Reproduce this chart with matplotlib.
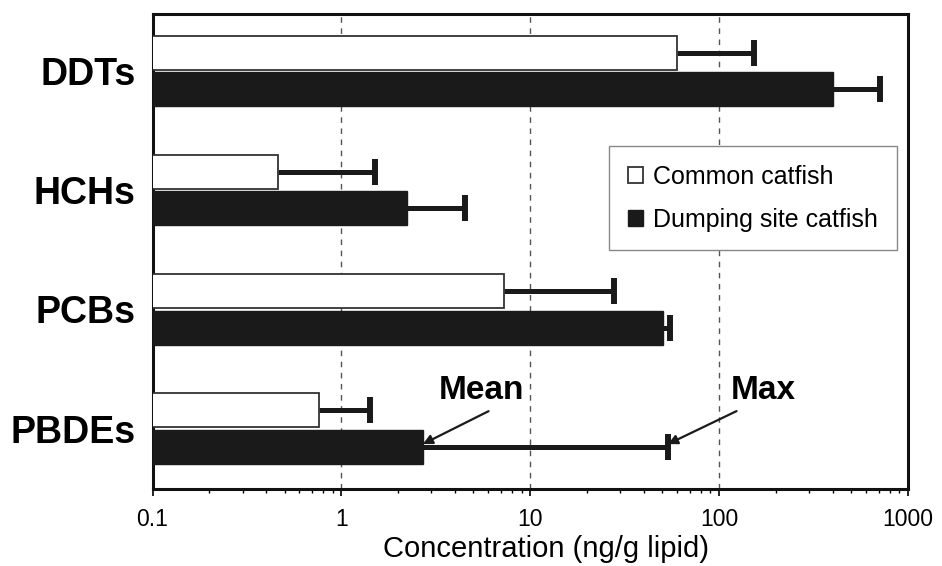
import matplotlib.pyplot as plt
import numpy as np

categories = ["DDTs", "HCHs", "PCBs", "PBDEs"]
series = ["Common catfish", "Dumping site catfish"]

common_mean = [59.8, 0.46, 7.3, 0.76]
common_max = [153, 1.5, 27.8, 1.42]
dumping_mean = [400, 2.23, 50.6, 2.7]
dumping_max = [710, 4.5, 55, 53.6]

x_ticks = [0.1, 1, 10, 100, 1000]
x_tick_labels = ["0.1", "1", "10", "100", "1000"]


def one_sided_err(ax, mean, mx, ypos):
    mean = np.array(mean)
    _, caps, _ = ax.errorbar(mean, ypos, xerr=[np.zeros_like(mean), np.array(mx) - mean],
                             fmt="none", ecolor="#1a1a1a", elinewidth=3.6, capsize=9.7,
                             capthick=4.3, zorder=2)
    # only keep the cap at the max end
    caps[0].set_visible(False)


def plot():
    plt.rcParams["font.family"] = ["Liberation Sans", "DejaVu Sans"]
    fig = plt.figure(figsize=(9.42, 5.66), dpi=100)
    ax = fig.add_axes([0.1619, 0.1360, 0.802, 0.839])

    y = np.arange(len(categories))
    off = 0.153
    h = 0.285

    ax.barh(y - off, common_mean, height=h, color="white", edgecolor="#333333",
            linewidth=1.3, zorder=3, label=series[0])
    ax.barh(y + off, dumping_mean, height=h, color="#1a1a1a", edgecolor="#1a1a1a",
            linewidth=1.0, zorder=3, label=series[1])

    one_sided_err(ax, common_mean, common_max, y - off)
    one_sided_err(ax, dumping_mean, dumping_max, y + off)

    ax.set_xscale("log")
    ax.set_xlim(0.1, 1000)
    ax.set_ylim(3.507, -0.476)

    ax.set_xticks(x_ticks)
    ax.set_xticklabels(x_tick_labels, fontsize=16.5)
    ax.tick_params(axis="x", which="major", direction="out", length=5, width=1.2, pad=9)
    ax.tick_params(axis="x", which="minor", direction="out", length=3, width=1.0)

    ax.set_yticks(y)
    ax.set_yticklabels(categories, fontsize=27, fontweight="bold")
    ax.tick_params(axis="y", length=0, pad=12)

    for v in [1, 10, 100]:
        ax.axvline(v, color="#555555", linestyle=(0, (4, 4)), linewidth=1.0, zorder=1)

    for s in ax.spines.values():
        s.set_linewidth(2.2)
        s.set_color("#111111")

    ax.set_xlabel("Concentration (ng/g lipid)", fontsize=21)
    ax.xaxis.set_label_coords(0.521, -0.097)

    i = categories.index("PBDEs")
    ax.annotate("Mean", xy=(dumping_mean[i], i + 0.13), xytext=(5.55, i - 0.32),
                fontsize=24, fontweight="bold", ha="center", va="center",
                arrowprops=dict(arrowstyle="-|>", color="#1a1a1a", lw=1.6,
                                mutation_scale=14, relpos=(0.7, 0.0), shrinkA=4, shrinkB=0))
    ax.annotate("Max", xy=(dumping_max[i], i + 0.13), xytext=(172, i - 0.32),
                fontsize=24, fontweight="bold", ha="center", va="center",
                arrowprops=dict(arrowstyle="-|>", color="#1a1a1a", lw=1.6,
                                mutation_scale=14, relpos=(0.25, 0.0), shrinkA=4, shrinkB=0))

    leg = ax.legend(loc="upper right", bbox_to_anchor=(0.985, 0.722), fontsize=18,
                    fancybox=False, framealpha=1, edgecolor="#888888",
                    handlelength=0.6, handleheight=0.6, handletextpad=0.4,
                    borderpad=0.75, labelspacing=0.75, borderaxespad=0)
    leg.get_frame().set_linewidth(1.0)

    fig.savefig("out.png", dpi=100)


if __name__ == "__main__":
    plot()
